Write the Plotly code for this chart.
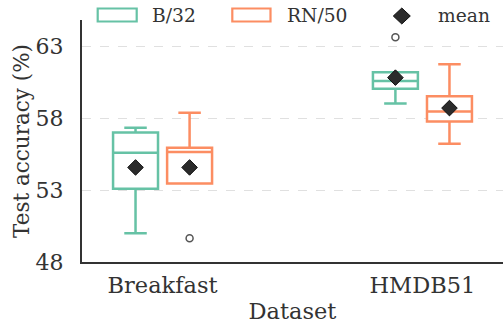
import plotly.graph_objects as go

categories = ["Breakfast", "HMDB51"]
series = ["B/32", "RN/50"]
colors = ["#66c2a5", "#fc8d62"]

# per series: [Breakfast, HMDB51]
q1 = {"B/32": [53.10, 60.05], "RN/50": [53.47, 57.78]}
median = {"B/32": [55.60, 60.60], "RN/50": [55.65, 58.47]}
q3 = {"B/32": [57.01, 61.21], "RN/50": [55.95, 59.54]}
lower = {"B/32": [50.00, 59.03], "RN/50": [53.47, 56.23]}
upper = {"B/32": [57.34, 61.21], "RN/50": [58.38, 61.76]}
means = {"B/32": [54.58, 60.83], "RN/50": [54.58, 58.71]}
outliers = {"B/32": [[], [63.64]], "RN/50": [[49.65], []]}

yticks = [48, 53, 58, 63]

offset = 0.104
box_w = 0.173
font = "DejaVu Serif"
txt = "#333333"

W, H = 503, 324
ML, MR, MT, MB = 82, 0, 20, 61.5
PW, PH = W - ML - MR, H - MT - MB


def px(x):
    return (x - ML) / PW


def py(y):
    return (H - MB - y) / PH


fig = go.Figure()
for si, s in enumerate(series):
    sgn = -1 if si == 0 else 1
    xs = [ci + sgn * offset for ci in range(len(categories))]
    fig.add_trace(go.Box(
        x=xs, q1=q1[s], median=median[s], q3=q3[s],
        lowerfence=lower[s], upperfence=upper[s],
        width=box_w, whiskerwidth=0.5,
        fillcolor="white", line=dict(color=colors[si], width=2.5),
        boxpoints=False, name=s, showlegend=False, hoverinfo="skip",
    ))

# outliers
ox, oy = [], []
for si, s in enumerate(series):
    sgn = -1 if si == 0 else 1
    for ci in range(len(categories)):
        for v in outliers[s][ci]:
            ox.append(ci + sgn * offset)
            oy.append(v)
fig.add_trace(go.Scatter(
    x=ox, y=oy, mode="markers", showlegend=False, hoverinfo="skip",
    marker=dict(symbol="circle-open", size=7, color="#555555", line=dict(width=1.5)),
))

# means
mx, my = [], []
for si, s in enumerate(series):
    sgn = -1 if si == 0 else 1
    for ci in range(len(categories)):
        mx.append(ci + sgn * offset)
        my.append(means[s][ci])
fig.add_trace(go.Scatter(
    x=mx, y=my, mode="markers", name="mean", showlegend=False, hoverinfo="skip",
    marker=dict(symbol="diamond", size=12, color="#2b2b2b", line=dict(color="#111111", width=1)),
))

# manual legend (matplotlib-style)
shapes = []
annotations = []
leg_y0, leg_y1 = 8.5, 21.5
for (x0, x1, tx), s, c in zip([(97.7, 136.7, 150), (232.3, 270.5, 285)], series, colors):
    shapes.append(dict(type="rect", xref="paper", yref="paper",
                       x0=px(x0), x1=px(x1), y0=py(leg_y1), y1=py(leg_y0),
                       line=dict(color=c, width=2.2), fillcolor="white", layer="above"))
    annotations.append(dict(xref="paper", yref="paper", x=px(tx), y=py(15),
                            xanchor="left", yanchor="middle", showarrow=False,
                            text=s, font=dict(size=18.7, family=font, color=txt)))
cx, cy, hw, hh = 401.8, 16, 8.5, 8.0
path = "M {} {} L {} {} L {} {} L {} {} Z".format(
    px(cx - hw), py(cy), px(cx), py(cy - hh), px(cx + hw), py(cy), px(cx), py(cy + hh))
shapes.append(dict(type="path", xref="paper", yref="paper", path=path,
                   fillcolor="#2b2b2b", line=dict(color="#111111", width=1), layer="above"))
annotations.append(dict(xref="paper", yref="paper", x=px(436), y=py(15),
                        xanchor="left", yanchor="middle", showarrow=False,
                        text="mean", font=dict(size=18.7, family=font, color=txt)))

fig.update_layout(
    width=W, height=H,
    margin=dict(l=ML, r=MR, t=MT, b=MB),
    plot_bgcolor="white", paper_bgcolor="white",
    boxmode="overlay", showlegend=False, hovermode=False,
    font=dict(family=font, size=22, color=txt),
    shapes=shapes, annotations=annotations,
    xaxis=dict(
        range=[-0.31, 1.31], tickvals=list(range(len(categories))), ticktext=categories,
        showgrid=False, zeroline=False, showline=True, linecolor="#333333", linewidth=2,
        ticks="", ticklabelstandoff=2, automargin=False,
        title=dict(text="Dataset", font=dict(size=22.5), standoff=13),
        tickfont=dict(size=22.5),
    ),
    yaxis=dict(
        range=[48, 64.84], tickvals=yticks, ticktext=[str(t) for t in yticks],
        showgrid=True, gridcolor="#e0e0e0", griddash="dash", gridwidth=1,
        zeroline=False, showline=True, linecolor="#333333", linewidth=2,
        ticks="", ticklabelstandoff=12, automargin=False,
        title=dict(text="Test accuracy (%)", font=dict(size=21.5), standoff=0),
        tickfont=dict(size=22),
    ),
)

fig.write_html("out.html", post_script="document.body.style.margin='0';",
               config={"displayModeBar": False, "staticPlot": True})
